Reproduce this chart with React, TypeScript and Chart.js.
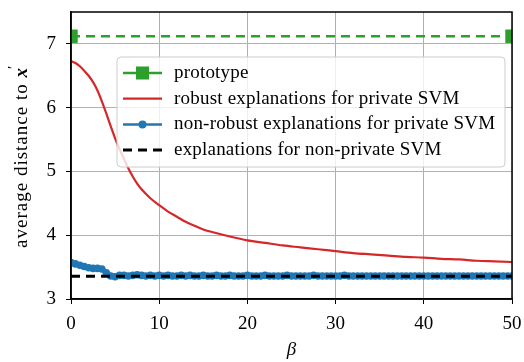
import React, { useEffect, useRef } from "react";
import { Chart, registerables } from "chart.js";

Chart.register(...registerables);

const protoX = [0, 50];
const protoY = [7.12, 7.12];

const redX = [0, 0.5, 1, 1.5, 2, 2.5, 3, 3.5, 4, 4.5, 5, 5.5, 6, 6.5, 7, 7.5, 8, 9, 10, 11, 12, 13, 14, 15, 16, 18, 20, 22, 24, 26, 28, 30, 32, 34, 36, 38, 40, 42, 44, 46, 48, 50];
const redY = [6.73, 6.70, 6.65, 6.58, 6.50, 6.40, 6.27, 6.10, 5.91, 5.71, 5.52, 5.35, 5.20, 5.05, 4.92, 4.81, 4.72, 4.58, 4.47, 4.37, 4.29, 4.21, 4.15, 4.09, 4.05, 3.98, 3.92, 3.88, 3.84, 3.81, 3.78, 3.75, 3.72, 3.70, 3.68, 3.66, 3.65, 3.63, 3.62, 3.60, 3.59, 3.58];

const blueY = [
  3.57, 3.55, 3.53, 3.51, 3.49, 3.48, 3.48, 3.47, 3.41, 3.36,
  3.35, 3.37, 3.37, 3.36, 3.37, 3.38, 3.37, 3.36, 3.37, 3.36,
  3.37, 3.36, 3.37, 3.36, 3.36, 3.37, 3.36, 3.37, 3.36, 3.36,
  3.37, 3.36, 3.36, 3.37, 3.36, 3.36, 3.37, 3.36, 3.36, 3.36,
  3.37, 3.36, 3.36, 3.36, 3.37, 3.36, 3.36, 3.36, 3.36, 3.37,
  3.36, 3.36, 3.36, 3.36, 3.36, 3.37, 3.36, 3.36, 3.36, 3.36,
  3.36, 3.36, 3.37, 3.36, 3.36, 3.36, 3.36, 3.36, 3.36, 3.36,
  3.36, 3.36, 3.36, 3.36, 3.36, 3.36, 3.36, 3.36, 3.36, 3.36,
  3.36, 3.36, 3.36, 3.36, 3.36, 3.36, 3.36, 3.36, 3.36, 3.36,
  3.36, 3.36, 3.36, 3.36, 3.36, 3.36, 3.36, 3.36, 3.36, 3.36,
  3.36,
];
const blueStep = 0.5;

const baseX = [0, 50];
const baseY = [3.355, 3.355];

const xTicks = [0, 10, 20, 30, 40, 50];
const yTicks = [3, 4, 5, 6, 7];

const legendLabels = [
  "prototype",
  "robust explanations for private SVM",
  "non-robust explanations for private SVM",
  "explanations for non-private SVM",
];
const yTitle = "average distance to ";
const xTitle = "β";

const GREEN = "#2ca02c";
const RED = "#d62728";
const BLUE = "#1f77b4";
const BLACK = "#000000";
const FONT = "'Liberation Serif', serif";

const pts = (xs: number[], ys: number[]) => ys.map((y, i) => ({ x: xs[i], y }));

const overlay = {
  id: "overlay",
  afterDraw(chart: any) {
    const { ctx, chartArea: a } = chart;
    ctx.save();
    // legend
    const lx = a.left + 46, ly = a.top + 45, lw = 388, lh = 110, r = 4;
    ctx.beginPath();
    ctx.moveTo(lx + r, ly);
    ctx.arcTo(lx + lw, ly, lx + lw, ly + lh, r);
    ctx.arcTo(lx + lw, ly + lh, lx, ly + lh, r);
    ctx.arcTo(lx, ly + lh, lx, ly, r);
    ctx.arcTo(lx, ly, lx + lw, ly, r);
    ctx.closePath();
    ctx.fillStyle = "rgba(255,255,255,0.8)";
    ctx.fill();
    ctx.strokeStyle = "#cccccc";
    ctx.lineWidth = 1;
    ctx.stroke();

    const rowY = (i: number) => ly + 16 + i * 25.7;
    const hx0 = lx + 6, hx1 = lx + 45;
    ctx.lineCap = "butt";
    ctx.strokeStyle = GREEN;
    ctx.lineWidth = 2.5;
    ctx.setLineDash([]);
    ctx.beginPath(); ctx.moveTo(hx0, rowY(0)); ctx.lineTo(hx1, rowY(0)); ctx.stroke();
    ctx.fillStyle = GREEN;
    ctx.fillRect((hx0 + hx1) / 2 - 6.5, rowY(0) - 6.5, 13, 13);
    ctx.strokeStyle = RED;
    ctx.lineWidth = 2.2;
    ctx.beginPath(); ctx.moveTo(hx0, rowY(1)); ctx.lineTo(hx1, rowY(1)); ctx.stroke();
    ctx.strokeStyle = BLUE;
    ctx.lineWidth = 2.5;
    ctx.beginPath(); ctx.moveTo(hx0, rowY(2)); ctx.lineTo(hx1, rowY(2)); ctx.stroke();
    ctx.fillStyle = BLUE;
    ctx.beginPath(); ctx.arc((hx0 + hx1) / 2, rowY(2), 4, 0, Math.PI * 2); ctx.fill();
    ctx.strokeStyle = BLACK;
    ctx.lineWidth = 3;
    ctx.setLineDash([9, 6]);
    ctx.beginPath(); ctx.moveTo(hx0, rowY(3)); ctx.lineTo(hx1, rowY(3)); ctx.stroke();
    ctx.setLineDash([]);

    ctx.fillStyle = "#000";
    ctx.font = `19px ${FONT}`;
    (ctx as any).letterSpacing = "0.2px";
    ctx.textBaseline = "middle";
    ctx.textAlign = "left";
    legendLabels.forEach((t, i) => ctx.fillText(t, lx + 57, rowY(i)));

    // y title
    ctx.save();
    ctx.translate(22, (a.top + a.bottom) / 2);
    ctx.rotate(-Math.PI / 2);
    ctx.font = `19px ${FONT}`;
    (ctx as any).letterSpacing = "1px";
    const w1 = ctx.measureText(yTitle).width;
    ctx.font = `italic bold 19px ${FONT}`;
    (ctx as any).letterSpacing = "0px";
    const w2 = ctx.measureText("x").width;
    const start = -(w1 + w2 + 5) / 2;
    ctx.font = `19px ${FONT}`;
    (ctx as any).letterSpacing = "1px";
    ctx.textBaseline = "middle";
    ctx.fillText(yTitle, start, 0);
    ctx.font = `italic bold 19px ${FONT}`;
    (ctx as any).letterSpacing = "0px";
    ctx.fillText("x", start + w1, 0);
    ctx.font = `15px ${FONT}`;
    ctx.fillText("′", start + w1 + w2 - 1, -8);
    ctx.restore();

    // x title
    ctx.font = `italic 19px ${FONT}`;
    (ctx as any).letterSpacing = "0px";
    ctx.textAlign = "center";
    ctx.textBaseline = "middle";
    ctx.fillText(xTitle, (a.left + a.right) / 2, 350);

    // frame
    ctx.strokeStyle = "#000";
    ctx.lineWidth = 1.5;
    ctx.strokeRect(a.left, a.top, a.right - a.left, a.bottom - a.top);
    ctx.restore();
  },
};

export default function App() {
  const ref = useRef<HTMLCanvasElement>(null);
  useEffect(() => {
    const blueX = blueY.map((_, i) => i * blueStep);
    const chart = new Chart(ref.current!, {
      type: "line",
      data: {
        datasets: [
          {
            label: legendLabels[0],
            data: pts(protoX, protoY),
            borderColor: GREEN,
            backgroundColor: GREEN,
            borderWidth: 2.5,
            borderDash: [9, 6],
            pointStyle: "rect",
            pointRadius: 9.5,
            pointBorderWidth: 0,
            clip: 0,
            order: 0,
          } as any,
          {
            label: legendLabels[1],
            data: pts(redX, redY),
            borderColor: RED,
            borderWidth: 2.2,
            pointRadius: 0,
            cubicInterpolationMode: "monotone",
            order: 3,
          } as any,
          {
            label: legendLabels[2],
            data: pts(blueX, blueY),
            borderColor: BLUE,
            backgroundColor: BLUE,
            borderWidth: 5,
            pointRadius: 3.8,
            pointBorderWidth: 0,
            order: 2,
          } as any,
          {
            label: legendLabels[3],
            data: pts(baseX, baseY),
            borderColor: BLACK,
            borderWidth: 3,
            borderDash: [9, 6],
            pointRadius: 0,
            order: 1,
          } as any,
        ],
      },
      options: {
        animation: false,
        responsive: false,
        layout: { padding: { left: 0, right: 12, top: 12, bottom: 0 } },
        plugins: { legend: { display: false }, tooltip: { enabled: false } },
        scales: {
          x: {
            type: "linear",
            min: 0,
            max: 50,
            afterBuildTicks: (s: any) => { s.ticks = xTicks.map((v) => ({ value: v })); },
            afterFit: (s: any) => { s.height = 63; s.paddingLeft = 0; s.paddingRight = 0; },
            grid: { color: "#b0b0b0", lineWidth: 1, tickColor: "#000", tickLength: 5 },
            border: { color: "#000", width: 1.5 },
            ticks: { color: "#000", font: { family: FONT, size: 19 }, padding: 9 },
          },
          y: {
            type: "linear",
            min: 3,
            max: 7.5,
            afterBuildTicks: (s: any) => { s.ticks = yTicks.map((v) => ({ value: v })); },
            afterFit: (s: any) => { s.width = 71; s.paddingTop = 0; s.paddingBottom = 0; },
            grid: { color: "#b0b0b0", lineWidth: 1, tickColor: "#000", tickLength: 5 },
            border: { color: "#000", width: 1.5 },
            ticks: { color: "#000", font: { family: FONT, size: 19 }, padding: 10 },
          },
        },
      },
      plugins: [overlay],
    });
    return () => chart.destroy();
  }, []);
  return (
    <div style={{ position: "fixed", left: 0, top: 0, width: 524, height: 362, background: "#fff" }}>
      <canvas ref={ref} width={524} height={362} style={{ width: 524, height: 362 }} />
    </div>
  );
}
